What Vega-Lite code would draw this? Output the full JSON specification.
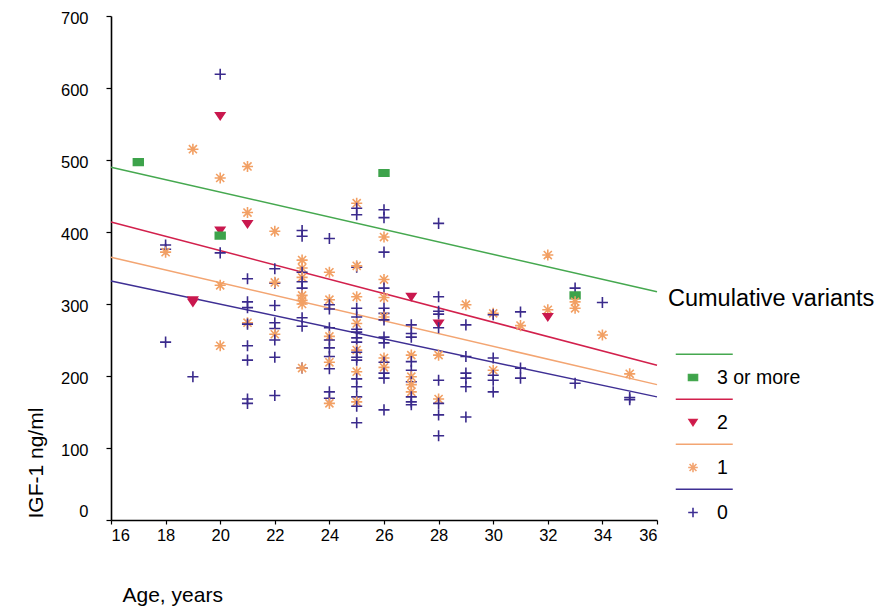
{
  "$schema": "https://vega.github.io/schema/vega-lite/v6.json",
  "width": 546,
  "height": 504,
  "autosize": {"type": "none"},
  "padding": {"left": 111, "top": 16, "right": 226, "bottom": 89},
  "background": "white",
  "config": {
    "font": "Liberation Sans",
    "view": {"stroke": null},
    "axis": {"grid": false, "domainColor": "black", "tickColor": "black", "labelColor": "black", "titleColor": "black", "domainWidth": 1.6, "tickWidth": 1.2, "labelFontSize": 16.5, "titleFontSize": 21, "titleFontWeight": "normal", "labelFont": "Liberation Sans", "titleFont": "Liberation Sans"}
  },
  "datasets": {
    "pts": [
      {"age": 17, "igf": 497, "variants": "3 or more"},
      {"age": 18, "igf": 382, "variants": "0"},
      {"age": 18, "igf": 376, "variants": "0"},
      {"age": 18, "igf": 372, "variants": "1"},
      {"age": 18, "igf": 247, "variants": "0"},
      {"age": 19, "igf": 305, "variants": "2"},
      {"age": 19, "igf": 302, "variants": "2"},
      {"age": 19, "igf": 515, "variants": "1"},
      {"age": 19, "igf": 199, "variants": "0"},
      {"age": 20, "igf": 619, "variants": "0"},
      {"age": 20, "igf": 561, "variants": "2"},
      {"age": 20, "igf": 475, "variants": "1"},
      {"age": 20, "igf": 402, "variants": "2"},
      {"age": 20, "igf": 395, "variants": "3 or more"},
      {"age": 20, "igf": 371, "variants": "0"},
      {"age": 20, "igf": 326, "variants": "1"},
      {"age": 20, "igf": 242, "variants": "1"},
      {"age": 21, "igf": 491, "variants": "1"},
      {"age": 21, "igf": 427, "variants": "1"},
      {"age": 21, "igf": 411, "variants": "2"},
      {"age": 21, "igf": 335, "variants": "0"},
      {"age": 21, "igf": 303, "variants": "0"},
      {"age": 21, "igf": 295, "variants": "0"},
      {"age": 21, "igf": 274, "variants": "1"},
      {"age": 21, "igf": 272, "variants": "0"},
      {"age": 21, "igf": 242, "variants": "0"},
      {"age": 21, "igf": 222, "variants": "0"},
      {"age": 21, "igf": 168, "variants": "0"},
      {"age": 21, "igf": 162, "variants": "0"},
      {"age": 22, "igf": 401, "variants": "1"},
      {"age": 22, "igf": 349, "variants": "0"},
      {"age": 22, "igf": 329, "variants": "0"},
      {"age": 22, "igf": 330, "variants": "1"},
      {"age": 22, "igf": 298, "variants": "0"},
      {"age": 22, "igf": 274, "variants": "0"},
      {"age": 22, "igf": 266, "variants": "0"},
      {"age": 22, "igf": 258, "variants": "1"},
      {"age": 22, "igf": 250, "variants": "0"},
      {"age": 22, "igf": 226, "variants": "0"},
      {"age": 22, "igf": 173, "variants": "0"},
      {"age": 23, "igf": 402, "variants": "0"},
      {"age": 23, "igf": 394, "variants": "0"},
      {"age": 23, "igf": 361, "variants": "1"},
      {"age": 23, "igf": 350, "variants": "1"},
      {"age": 23, "igf": 344, "variants": "0"},
      {"age": 23, "igf": 337, "variants": "1"},
      {"age": 23, "igf": 331, "variants": "0"},
      {"age": 23, "igf": 322, "variants": "0"},
      {"age": 23, "igf": 312, "variants": "1"},
      {"age": 23, "igf": 305, "variants": "1"},
      {"age": 23, "igf": 300, "variants": "1"},
      {"age": 23, "igf": 281, "variants": "0"},
      {"age": 23, "igf": 269, "variants": "0"},
      {"age": 23, "igf": 211, "variants": "0"},
      {"age": 23, "igf": 211, "variants": "1"},
      {"age": 24, "igf": 391, "variants": "0"},
      {"age": 24, "igf": 344, "variants": "1"},
      {"age": 24, "igf": 306, "variants": "1"},
      {"age": 24, "igf": 299, "variants": "0"},
      {"age": 24, "igf": 293, "variants": "0"},
      {"age": 24, "igf": 267, "variants": "0"},
      {"age": 24, "igf": 255, "variants": "1"},
      {"age": 24, "igf": 250, "variants": "0"},
      {"age": 24, "igf": 239, "variants": "0"},
      {"age": 24, "igf": 227, "variants": "0"},
      {"age": 24, "igf": 219, "variants": "1"},
      {"age": 24, "igf": 210, "variants": "0"},
      {"age": 24, "igf": 178, "variants": "0"},
      {"age": 24, "igf": 169, "variants": "0"},
      {"age": 24, "igf": 162, "variants": "1"},
      {"age": 25, "igf": 440, "variants": "1"},
      {"age": 25, "igf": 433, "variants": "0"},
      {"age": 25, "igf": 424, "variants": "0"},
      {"age": 25, "igf": 351, "variants": "0"},
      {"age": 25, "igf": 353, "variants": "1"},
      {"age": 25, "igf": 310, "variants": "1"},
      {"age": 25, "igf": 294, "variants": "0"},
      {"age": 25, "igf": 282, "variants": "0"},
      {"age": 25, "igf": 273, "variants": "1"},
      {"age": 25, "igf": 265, "variants": "0"},
      {"age": 25, "igf": 261, "variants": "0"},
      {"age": 25, "igf": 253, "variants": "0"},
      {"age": 25, "igf": 247, "variants": "0"},
      {"age": 25, "igf": 236, "variants": "1"},
      {"age": 25, "igf": 233, "variants": "0"},
      {"age": 25, "igf": 226, "variants": "0"},
      {"age": 25, "igf": 222, "variants": "0"},
      {"age": 25, "igf": 206, "variants": "1"},
      {"age": 25, "igf": 196, "variants": "0"},
      {"age": 25, "igf": 185, "variants": "0"},
      {"age": 25, "igf": 171, "variants": "0"},
      {"age": 25, "igf": 164, "variants": "1"},
      {"age": 25, "igf": 158, "variants": "0"},
      {"age": 25, "igf": 135, "variants": "0"},
      {"age": 26, "igf": 482, "variants": "3 or more"},
      {"age": 26, "igf": 431, "variants": "0"},
      {"age": 26, "igf": 420, "variants": "0"},
      {"age": 26, "igf": 393, "variants": "1"},
      {"age": 26, "igf": 372, "variants": "0"},
      {"age": 26, "igf": 334, "variants": "1"},
      {"age": 26, "igf": 322, "variants": "0"},
      {"age": 26, "igf": 309, "variants": "1"},
      {"age": 26, "igf": 294, "variants": "0"},
      {"age": 26, "igf": 287, "variants": "0"},
      {"age": 26, "igf": 282, "variants": "1"},
      {"age": 26, "igf": 278, "variants": "0"},
      {"age": 26, "igf": 254, "variants": "0"},
      {"age": 26, "igf": 246, "variants": "0"},
      {"age": 26, "igf": 225, "variants": "1"},
      {"age": 26, "igf": 219, "variants": "0"},
      {"age": 26, "igf": 212, "variants": "1"},
      {"age": 26, "igf": 204, "variants": "0"},
      {"age": 26, "igf": 197, "variants": "0"},
      {"age": 26, "igf": 153, "variants": "0"},
      {"age": 27, "igf": 310, "variants": "2"},
      {"age": 27, "igf": 271, "variants": "0"},
      {"age": 27, "igf": 259, "variants": "0"},
      {"age": 27, "igf": 254, "variants": "0"},
      {"age": 27, "igf": 229, "variants": "1"},
      {"age": 27, "igf": 220, "variants": "0"},
      {"age": 27, "igf": 208, "variants": "0"},
      {"age": 27, "igf": 199, "variants": "1"},
      {"age": 27, "igf": 192, "variants": "0"},
      {"age": 27, "igf": 188, "variants": "1"},
      {"age": 27, "igf": 178, "variants": "1"},
      {"age": 27, "igf": 171, "variants": "0"},
      {"age": 27, "igf": 164, "variants": "0"},
      {"age": 27, "igf": 160, "variants": "0"},
      {"age": 28, "igf": 412, "variants": "0"},
      {"age": 28, "igf": 310, "variants": "0"},
      {"age": 28, "igf": 290, "variants": "0"},
      {"age": 28, "igf": 286, "variants": "0"},
      {"age": 28, "igf": 273, "variants": "2"},
      {"age": 28, "igf": 267, "variants": "0"},
      {"age": 28, "igf": 229, "variants": "1"},
      {"age": 28, "igf": 194, "variants": "0"},
      {"age": 28, "igf": 168, "variants": "1"},
      {"age": 28, "igf": 162, "variants": "0"},
      {"age": 28, "igf": 146, "variants": "0"},
      {"age": 28, "igf": 117, "variants": "0"},
      {"age": 29, "igf": 299, "variants": "1"},
      {"age": 29, "igf": 271, "variants": "0"},
      {"age": 29, "igf": 227, "variants": "0"},
      {"age": 29, "igf": 204, "variants": "0"},
      {"age": 29, "igf": 197, "variants": "0"},
      {"age": 29, "igf": 185, "variants": "0"},
      {"age": 29, "igf": 143, "variants": "0"},
      {"age": 30, "igf": 287, "variants": "1"},
      {"age": 30, "igf": 285, "variants": "0"},
      {"age": 30, "igf": 225, "variants": "0"},
      {"age": 30, "igf": 208, "variants": "1"},
      {"age": 30, "igf": 201, "variants": "0"},
      {"age": 30, "igf": 194, "variants": "0"},
      {"age": 30, "igf": 178, "variants": "0"},
      {"age": 31, "igf": 289, "variants": "0"},
      {"age": 31, "igf": 270, "variants": "1"},
      {"age": 31, "igf": 211, "variants": "0"},
      {"age": 31, "igf": 197, "variants": "0"},
      {"age": 32, "igf": 368, "variants": "1"},
      {"age": 32, "igf": 292, "variants": "1"},
      {"age": 32, "igf": 282, "variants": "2"},
      {"age": 33, "igf": 322, "variants": "0"},
      {"age": 33, "igf": 312, "variants": "3 or more"},
      {"age": 33, "igf": 303, "variants": "1"},
      {"age": 33, "igf": 294, "variants": "1"},
      {"age": 33, "igf": 190, "variants": "0"},
      {"age": 34, "igf": 302, "variants": "0"},
      {"age": 34, "igf": 257, "variants": "1"},
      {"age": 35, "igf": 203, "variants": "1"},
      {"age": 35, "igf": 170, "variants": "0"},
      {"age": 35, "igf": 167, "variants": "0"}
    ],
    "fits": [
      {"age": 16, "igf": 490, "variants": "3 or more"},
      {"age": 36, "igf": 317, "variants": "3 or more"},
      {"age": 16, "igf": 414, "variants": "2"},
      {"age": 36, "igf": 215, "variants": "2"},
      {"age": 16, "igf": 365, "variants": "1"},
      {"age": 36, "igf": 188, "variants": "1"},
      {"age": 16, "igf": 332, "variants": "0"},
      {"age": 36, "igf": 171, "variants": "0"}
    ]
  },
  "encoding": {
    "x": {"field": "age", "type": "quantitative", "scale": {"domain": [16, 36], "nice": false, "zero": false},
      "axis": {"values": [16, 18, 20, 22, 24, 26, 28, 30, 32, 34, 36], "title": "Age, years", "tickSize": 4, "labelPadding": 3, "titleAnchor": null, "titleAlign": "left", "titleBaseline": "middle", "titleX": 11, "titleY": 75}},
    "y": {"field": "igf", "type": "quantitative", "scale": {"domain": [0, 700], "nice": false},
      "axis": {"values": [0, 100, 200, 300, 400, 500, 600, 700], "title": "IGF-1 ng/ml", "tickSize": 5, "labelPadding": 18,
        "labelOffset": {"condition": {"test": "datum.value === 0", "value": -9}, "value": 2},
        "titleAnchor": null, "titleAngle": -90, "titleAlign": "left", "titleBaseline": "middle", "titleX": -75, "titleY": 502}}
  },
  "layer": [
    {
      "data": {"name": "fits"},
      "mark": {"type": "line", "strokeWidth": 1.5},
      "encoding": {
        "color": {"field": "variants", "type": "nominal", "legend": null,
          "scale": {"domain": ["3 or more", "2", "1", "0"], "range": ["#45a84f", "#d2204c", "#f3a572", "#3e2f94"]}}
      }
    },
    {
      "data": {"name": "pts"},
      "mark": {"type": "point", "filled": true, "size": 170, "strokeWidth": 1.6, "opacity": 1},
      "encoding": {
        "color": {"field": "variants", "type": "nominal", "legend": null,
          "scale": {"domain": ["3 or more", "2", "1", "0"], "range": ["#3da34b", "#c9184e", "#f2a064", "#3a2a8c"]}},
        "stroke": {"field": "variants", "type": "nominal", "legend": null,
          "scale": {"domain": ["3 or more", "2", "1", "0"], "range": ["#3da34b", "#c9184e", "#f2a064", "#3a2a8c"]}},
        "shape": {"field": "variants", "type": "nominal", "legend": null,
          "scale": {"domain": ["3 or more", "2", "1", "0"], "range": [
            "M-0.75,-0.5H0.75V0.5H-0.75Z",
            "M-0.7,-0.5L0.7,-0.5L0,0.55Z",
            "M-0.85,0H0.85M0,-0.85V0.85M-0.62,-0.62L0.62,0.62M-0.62,0.62L0.62,-0.62",
            "M-0.85,0H0.85M0,-0.85V0.85"
          ]}}
      }
    },
    {
      "data": {"name": "pts"},
      "mark": {"type": "point", "filled": true, "size": 150, "strokeWidth": 1.4, "opacity": 0},
      "encoding": {
        "color": {"field": "variants", "type": "nominal",
          "scale": {"domain": ["3 or more", "2", "1", "0"], "range": ["#3da34b", "#c9184e", "#f2a064", "#3a2a8c"]},
          "legend": {"title": "Cumulative variants", "orient": "none", "legendX": 557, "legendY": 271, "padding": 0, "titleFontSize": 23.5, "titleFontWeight": "normal", "titleColor": "black", "titleLimit": 400, "titlePadding": 51, "labelFontSize": 19.5, "labelColor": "black", "symbolSize": 900, "symbolStrokeWidth": 1.6, "symbolOpacity": 1, "symbolOffset": 9, "labelOffset": 8, "rowPadding": 8}},
        "stroke": {"field": "variants", "type": "nominal",
          "scale": {"domain": ["3 or more", "2", "1", "0"], "range": ["#45a84f", "#d2204c", "#f3a572", "#3e2f94"]},
          "legend": {"title": "Cumulative variants", "orient": "none", "legendX": 557, "legendY": 271, "padding": 0, "titleFontSize": 23.5, "titleFontWeight": "normal", "titleColor": "black", "titleLimit": 400, "titlePadding": 51, "labelFontSize": 19.5, "labelColor": "black", "symbolSize": 900, "symbolStrokeWidth": 1.6, "symbolOpacity": 1, "symbolOffset": 9, "labelOffset": 8, "rowPadding": 8}},
        "shape": {"field": "variants", "type": "nominal",
          "scale": {"domain": ["3 or more", "2", "1", "0"], "range": [
            "M-1.15,-1.55H2.65M-0.3,-0.2H0.3V0.2H-0.3Z",
            "M-1.15,-1.55H2.65M-0.26,-0.2L0.26,-0.2L0,0.2Z",
            "M-1.15,-1.55H2.65M-0.32,0H0.32M0,-0.32V0.32M-0.23,-0.23L0.23,0.23M-0.23,0.23L0.23,-0.23",
            "M-1.15,-1.55H2.65M-0.32,0H0.32M0,-0.32V0.32"
          ]},
          "legend": {"title": "Cumulative variants", "orient": "none", "legendX": 557, "legendY": 271, "padding": 0, "titleFontSize": 23.5, "titleFontWeight": "normal", "titleColor": "black", "titleLimit": 400, "titlePadding": 51, "labelFontSize": 19.5, "labelColor": "black", "symbolSize": 900, "symbolStrokeWidth": 1.6, "symbolOpacity": 1, "symbolOffset": 9, "labelOffset": 8, "rowPadding": 8}}
      }
    }
  ],
  "resolve": {"scale": {"color": "independent", "stroke": "independent", "shape": "independent"}}
}
